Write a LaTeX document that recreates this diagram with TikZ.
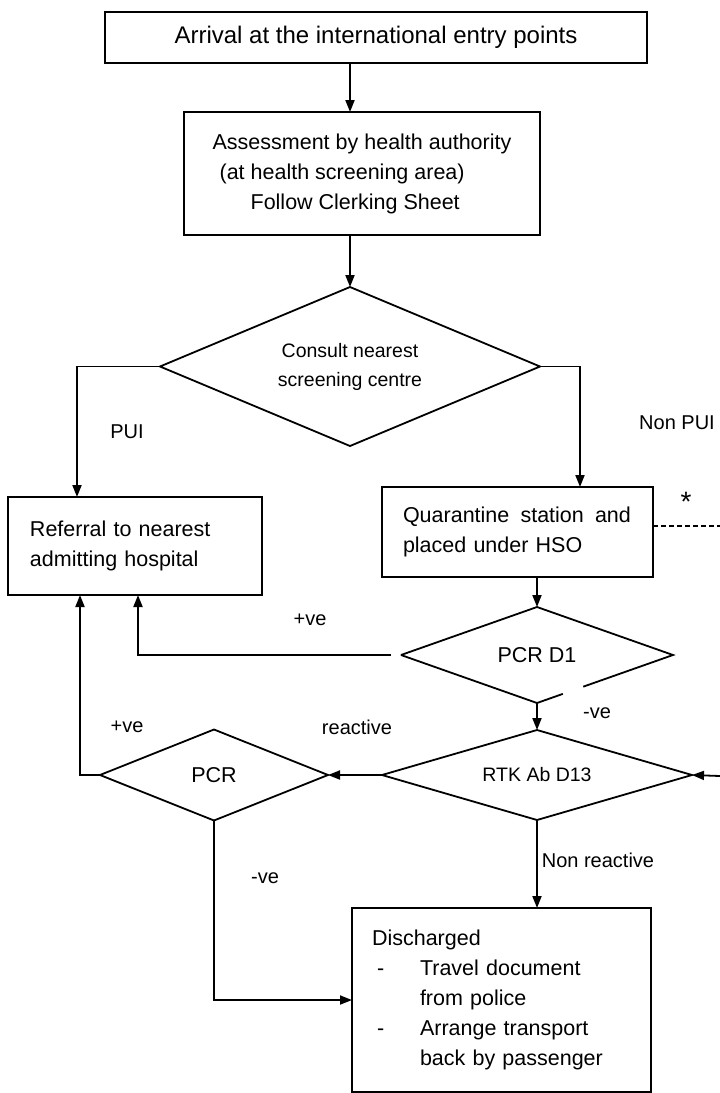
\documentclass[tikz,border=0pt]{standalone}
\usepackage{fontspec}
\setmainfont{Liberation Sans}
\usetikzlibrary{shapes.geometric,arrows.meta,calc}
\begin{document}
\begin{tikzpicture}[x=1pt,y=-1pt,line width=1.8pt,
    box/.style={draw,rectangle,inner sep=0pt,outer sep=0pt,font=\fontsize{21.5}{30}\selectfont},
    dia/.style={draw,diamond,aspect=2.4,inner sep=0pt,outer sep=0pt,font=\fontsize{19.5}{29}\selectfont},
    lbl/.style={inner sep=0pt,font=\fontsize{20}{24}\selectfont},
    arr/.style={-{Triangle[length=12pt,width=9pt]}}]
    \useasboundingbox (0,0) rectangle (720,1093);
    \node[box,minimum width=542pt,minimum height=51pt,font=\fontsize{24}{30}\selectfont] (arrival) at (376,37.5) {Arrival at the international entry points};
    \node[box,minimum width=356pt,minimum height=123pt,align=left] (assess) at (362,173.5) {Assessment by health authority\\\hspace*{7pt}(at health screening area)\\\hspace*{38pt}Follow Clerking Sheet};
    \node[dia,minimum width=380pt,minimum height=159pt,align=center] (consult) at (350,366.5) {Consult nearest\\screening centre};
    \node[box,minimum height=98pt,text width=210pt,inner xsep=22pt,align=left] (referral) at (135,546) {Referral to nearest\\admitting hospital};
    \node[box,minimum height=90pt,text width=229pt,inner xsep=21pt,align=left] (quarantine) at (517.5,532) {Quarantine\hspace{4pt} station\hspace{4pt} and\\placed under HSO};
    \node[dia,draw=none,minimum width=272pt,minimum height=96pt,font=\fontsize{21.5}{26}\selectfont] (pcrdone) at (537,655) {PCR D1};
    \draw (pcrdone.west) -- (pcrdone.north) -- (pcrdone.east) -- ($(pcrdone.east)!0.66!(pcrdone.south)$);
    \draw (pcrdone.west) -- (pcrdone.south) -- ($(pcrdone.south)!0.19!(pcrdone.east)$);
    \node[dia,minimum width=310pt,minimum height=90pt] (rtk) at (537,775) {RTK Ab D13};
    \node[dia,minimum width=228pt,minimum height=91pt,font=\fontsize{21.5}{26}\selectfont] (pcr) at (214,775) {PCR};
    \node[box,minimum height=184pt,text width=259pt,inner xsep=20pt,align=left] (discharged) at (501.5,1000) {Discharged\\\makebox[48pt][l]{\hspace{5pt}-}Travel document\\\hspace*{48pt}from police\\\makebox[48pt][l]{\hspace{5pt}-}Arrange transport\\\hspace*{48pt}back by passenger};
    \coordinate (rtkin) at (720,776);
    \coordinate (dashend) at (720,526);
    \draw[arr] (arrival.south -| consult.north) -- (assess.north -| consult.north);
    \draw[arr] (assess.south -| consult.north) -- (consult.north);
    \draw[arr] (consult.west) -| ([xshift=69pt]referral.north west);
    \draw[arr] (consult.east) -| ([xshift=198pt]quarantine.north west);
    \draw[arr] (quarantine.south -| pcrdone.north) -- (pcrdone.north);
    \draw[arr] (pcrdone.south) -- (rtk.north);
    \draw[arr] ([xshift=-10pt]pcrdone.west) -| ([xshift=130pt]referral.south west);
    \draw[arr] (rtk.west) -- (pcr.east);
    \draw[arr] (pcr.west) -| ([xshift=72pt]referral.south west);
    \draw[arr] (rtkin) -- (rtk.east);
    \draw[arr] (pcr.south) |- (discharged.west);
    \draw[arr] (rtk.south) -- (rtk.south |- discharged.north);
    \draw[dashed,dash pattern=on 5pt off 3pt] ([yshift=6pt]quarantine.east) -- (dashend);
    \node[lbl] (pui) at (127,432) {PUI};
    \node[lbl] (nonpui) at (677,423) {Non PUI};
    \node[lbl,font=\fontsize{28}{30}\selectfont] (star) at (686,502) {*};
    \node[lbl] (pcrdpos) at (310,620) {+ve};
    \node[lbl] (pcrdneg) at (597,713) {-ve};
    \node[lbl] (reactive) at (357,727) {reactive};
    \node[lbl] (pcrpos) at (127,727) {+ve};
    \node[lbl] (pcrneg) at (265,878) {-ve};
    \node[lbl] (nonreactive) at (598,860) {Non reactive};
\end{tikzpicture}
\end{document}
